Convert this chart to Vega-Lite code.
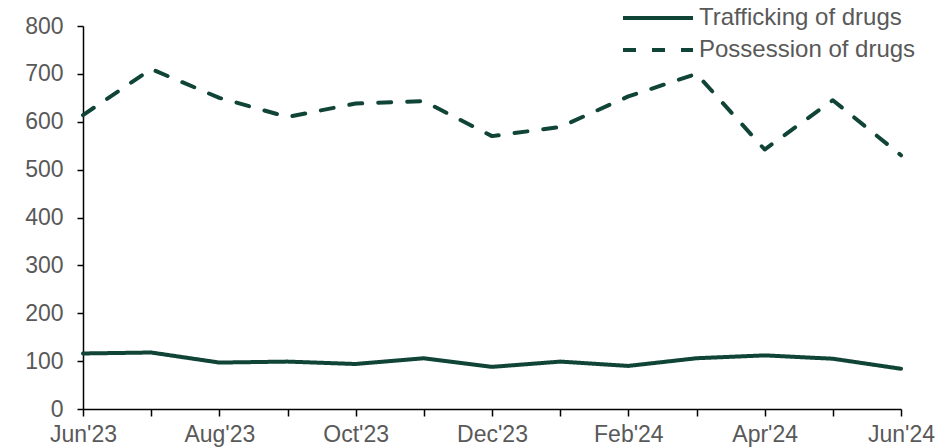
{
  "$schema": "https://vega.github.io/schema/vega-lite/v6.json",
  "width": 818,
  "height": 383,
  "autosize": "none",
  "padding": {"left": 83, "top": 26, "right": 38, "bottom": 39},
  "background": "white",
  "config": {
    "view": {"stroke": null},
    "font": "Liberation Sans"
  },
  "data": {
    "values": [
      {"month": "Jun'23", "series": "Trafficking of drugs", "value": 116},
      {"month": "Jul'23", "series": "Trafficking of drugs", "value": 118},
      {"month": "Aug'23", "series": "Trafficking of drugs", "value": 97},
      {"month": "Sep'23", "series": "Trafficking of drugs", "value": 99},
      {"month": "Oct'23", "series": "Trafficking of drugs", "value": 94},
      {"month": "Nov'23", "series": "Trafficking of drugs", "value": 106},
      {"month": "Dec'23", "series": "Trafficking of drugs", "value": 88},
      {"month": "Jan'24", "series": "Trafficking of drugs", "value": 99},
      {"month": "Feb'24", "series": "Trafficking of drugs", "value": 90},
      {"month": "Mar'24", "series": "Trafficking of drugs", "value": 106},
      {"month": "Apr'24", "series": "Trafficking of drugs", "value": 112},
      {"month": "May'24", "series": "Trafficking of drugs", "value": 105},
      {"month": "Jun'24", "series": "Trafficking of drugs", "value": 84},
      {"month": "Jun'23", "series": "Possession of drugs", "value": 614},
      {"month": "Jul'23", "series": "Possession of drugs", "value": 710},
      {"month": "Aug'23", "series": "Possession of drugs", "value": 650},
      {"month": "Sep'23", "series": "Possession of drugs", "value": 610},
      {"month": "Oct'23", "series": "Possession of drugs", "value": 638},
      {"month": "Nov'23", "series": "Possession of drugs", "value": 643},
      {"month": "Dec'23", "series": "Possession of drugs", "value": 570},
      {"month": "Jan'24", "series": "Possession of drugs", "value": 589},
      {"month": "Feb'24", "series": "Possession of drugs", "value": 653},
      {"month": "Mar'24", "series": "Possession of drugs", "value": 700},
      {"month": "Apr'24", "series": "Possession of drugs", "value": 542},
      {"month": "May'24", "series": "Possession of drugs", "value": 645},
      {"month": "Jun'24", "series": "Possession of drugs", "value": 530}
    ]
  },
  "mark": {"type": "line", "color": "#0f4437", "strokeWidth": 4, "strokeCap": "round", "strokeJoin": "round"},
  "encoding": {
    "x": {
      "field": "month",
      "type": "ordinal",
      "sort": null,
      "scale": {"type": "point", "padding": 0},
      "axis": {
        "title": null,
        "labelAngle": 0,
        "labelExpr": "test(regexp('^(Jun|Aug|Oct|Dec|Feb|Apr)'), datum.label) ? datum.label : ''",
        "labelFontSize": 23,
        "labelColor": "#595959",
        "labelPadding": 7,
        "domainColor": "#000000",
        "domainWidth": 1.5,
        "tickColor": "#000000",
        "tickWidth": 1.5,
        "tickSize": 7,
        "grid": false
      }
    },
    "y": {
      "field": "value",
      "type": "quantitative",
      "scale": {"domain": [0, 800], "nice": false},
      "axis": {
        "title": null,
        "values": [0, 100, 200, 300, 400, 500, 600, 700, 800],
        "labelFontSize": 23,
        "labelColor": "#595959",
        "labelPadding": 14,
        "domainColor": "#000000",
        "domainWidth": 1.5,
        "tickColor": "#000000",
        "tickWidth": 1.5,
        "tickSize": 6,
        "grid": false
      }
    },
    "strokeDash": {
      "field": "series",
      "type": "nominal",
      "sort": ["Trafficking of drugs", "Possession of drugs"],
      "scale": {
        "domain": ["Trafficking of drugs", "Possession of drugs"],
        "range": [[1, 0], [13, 16]]
      },
      "legend": {
        "title": null,
        "orient": "none",
        "legendX": 563,
        "legendY": -20,
        "padding": 0,
        "symbolType": "M-3.5,0H3.5",
        "symbolSize": 400,
        "symbolStrokeWidth": 4,
        "symbolStrokeColor": "#0f4437",
        "labelOffset": 29,
        "labelFontSize": 24,
        "labelColor": "#595959",
        "rowPadding": 8,
        "labelLimit": 400
      }
    }
  }
}
